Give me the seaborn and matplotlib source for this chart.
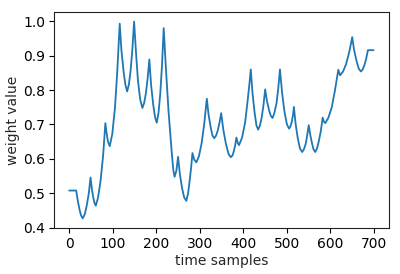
import numpy as np
import pandas as pd
import matplotlib
matplotlib.use("Agg")
import matplotlib.pyplot as plt
import seaborn as sns
# DATA
time_samples=[0,16,20,24,27,31,36,40,45,49,52,55,58,61,66,72,78,83,86,89,93,99,105,110,116,
120,125,129,133,137,141,145,149,154,158,163,168,172,176,180,184,188,193,197,201,205,209,213,217,
222,228,235,239,242,246,250,254,259,264,269,273,276,280,283,287,292,298,304,310,316,
320,325,329,333,337,341,345,349,354,360,366,371,375,378,381,384,387,390,397,404,410,414,417,
421,426,430,434,438,442,446,450,454,459,463,467,471,476,480,484,489,494,500,505,508,511,514,516,
520,525,530,535,539,543,546,550,554,558,561,565,569,573,578,582,585,588,595,603,610,618,622,
629,636,643,650,654,660,665,670,674,678,682,686,699]
weight_value=[0.508,0.508,0.476,0.451,0.436,0.427,0.440,0.463,0.500,0.546,0.513,0.489,0.472,0.464,0.486,0.536,0.612,0.704,0.674,0.650,0.637,0.673,0.748,0.847,0.993,
0.914,0.852,0.816,0.796,0.816,0.857,0.918,0.999,0.897,0.826,0.773,0.748,0.762,0.790,0.833,0.889,0.815,0.757,0.722,0.705,0.733,0.788,0.870,0.980,
0.865,0.740,0.625,0.568,0.548,0.565,0.606,0.557,0.516,0.488,0.478,0.500,0.530,0.575,0.617,0.598,0.590,0.608,0.645,0.701,0.775,
0.729,0.691,0.668,0.660,0.667,0.682,0.704,0.733,0.684,0.643,0.614,0.605,0.610,0.622,0.639,0.662,0.646,0.640,0.662,0.706,0.772,0.820,0.860,
0.790,0.732,0.697,0.685,0.697,0.720,0.755,0.802,0.769,0.741,0.725,0.719,0.733,0.761,0.804,0.860,0.791,0.740,0.700,0.688,0.694,0.707,0.728,0.751,
0.701,0.659,0.630,0.620,0.628,0.643,0.664,0.698,0.667,0.643,0.628,0.620,0.630,0.650,0.682,0.720,0.708,0.704,0.719,0.750,0.797,0.859,0.843,
0.854,0.876,0.910,0.954,0.918,0.884,0.862,0.854,0.860,0.873,0.891,0.916,0.916]
df=pd.DataFrame({"t":time_samples,"w":weight_value})
# PLOT
sns.set_style("ticks")
plt.rcParams["font.family"]=["DejaVu Sans"]
fig,ax=plt.subplots(figsize=(4,2.74),dpi=100)
sns.lineplot(data=df,x="t",y="w",color="#1f77b4",linewidth=1.3,ax=ax)
ax.set_xlabel("time samples",fontsize=10,labelpad=2)
ax.set_ylabel("weight value",fontsize=10,labelpad=2)
ax.set_xticks([0,100,200,300,400,500,600,700])
ax.set_yticks([0.4,0.5,0.6,0.7,0.8,0.9,1.0])
ax.tick_params(labelsize=10,length=3.5,width=0.8,pad=3,colors="black")
for s in ax.spines.values():
    s.set_linewidth(0.8)
    s.set_color("#222222")
plt.subplots_adjust(left=0.135,right=0.972,top=0.957,bottom=0.167)
plt.savefig("out.png",dpi=100)
plt.close()
